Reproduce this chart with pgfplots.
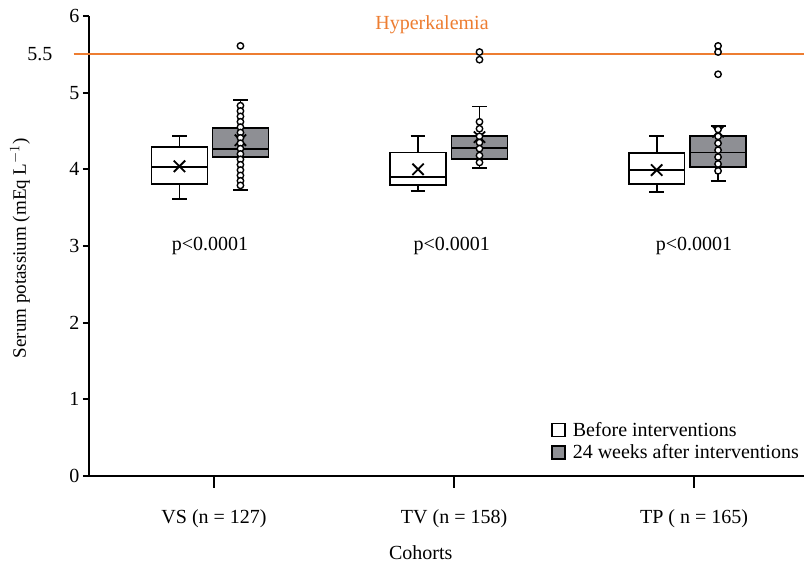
\documentclass[border=0pt]{standalone}
\usepackage{fontspec}
\setmainfont{Liberation Serif}
\usepackage{pgfplots}
\pgfplotsset{compat=1.18}
\definecolor{hk}{RGB}{237,125,49}
\definecolor{boxgray}{RGB}{142,143,148}
\newcommand{\fs}{\fontsize{20}{23}\selectfont}
\pgfplotsset{
  sqlegend/.style={legend image code/.code={\draw[##1] (0pt,-6.5pt) rectangle (13pt,6.5pt); \path (18pt,0pt);}},
  whisk/.style={forget plot, black, line width=1.8pt, unbounded coords=jump, line cap=butt},
  bxw/.style={forget plot, draw=black, fill=white, line width=1.8pt, line join=miter},
  bxg/.style={forget plot, draw=black, fill=boxgray, line width=1.8pt, line join=miter},
  med/.style={forget plot, black, line width=1.8pt},
}
\begin{document}
\begin{tikzpicture}
\begin{axis}[
  width=715pt, height=460pt, scale only axis,
  xmin=-0.521, xmax=2.458, ymin=0, ymax=6,
  axis x line=bottom, axis y line=left,
  axis line style={-, line width=1.7pt},
  xtick={0,1,2},
  xticklabels={VS (n = 127), TV (n = 158), TP ( n = 165)},
  ytick={0,1,2,3,4,5,6},
  tick align=outside,
  major tick length=6pt,
  x tick style={draw=none},
  y tick style={line width=1.7pt, black},
  tick label style={font=\fs},
  /pgf/number format/assume math mode=true,
  xticklabel style={yshift=-24pt},
  xlabel={Cohorts},
  ylabel={Serum potassium (mEq L$^{-1}$)},
  every axis x label/.style={at={(rel axis cs:0.464,0)}, yshift=-77pt, anchor=center, font=\fs},
  every axis y label/.style={at={(rel axis cs:0,0.495)}, xshift=-69pt, rotate=90, anchor=center, font=\fontsize{19}{22}\selectfont},
  clip=false,
  legend style={at={(1.0,0.025)}, anchor=south east, draw=none, fill=none,
    font=\fs, row sep=3pt},
  legend cell align=left,
]
\coordinate (bl) at (rel axis cs:0,0);
\coordinate (tr) at (rel axis cs:1,1);

\addlegendimage{sqlegend, draw=black, fill=white, line width=1.4pt}
\addlegendentry{Before interventions}
\addlegendimage{sqlegend, draw=black, fill=boxgray, line width=1.4pt}
\addlegendentry{24 weeks after interventions}

% x ticks (long, outside)
\addplot[forget plot, black, line width=1.7pt] coordinates {(0,0) (0,-0.157)};
\addplot[forget plot, black, line width=1.7pt] coordinates {(1,0) (1,-0.157)};
\addplot[forget plot, black, line width=1.7pt] coordinates {(2,0) (2,-0.157)};

% hyperkalemia line
\addplot[forget plot, hk, line width=2pt] coordinates {(-0.585,5.5) (2.458,5.5)};

% ---- VS before (x=-0.144)
\addplot[whisk] coordinates {(-0.144,3.61) (-0.144,4.43) (nan,nan) (-0.175,4.43) (-0.113,4.43) (nan,nan) (-0.175,3.61) (-0.113,3.61)};
\addplot[bxw] coordinates {(-0.2605,3.81) (-0.0275,3.81) (-0.0275,4.29) (-0.2605,4.29) (-0.2605,3.81)} -- cycle;
\addplot[med] coordinates {(-0.2605,4.03) (-0.0275,4.03)};
% ---- VS after (x=0.11)
\addplot[whisk] coordinates {(0.11,3.73) (0.11,4.90) (nan,nan) (0.079,4.90) (0.141,4.90) (nan,nan) (0.079,3.73) (0.141,3.73)};
\addplot[bxg] coordinates {(-0.0065,4.16) (0.2265,4.16) (0.2265,4.54) (-0.0065,4.54) (-0.0065,4.16)} -- cycle;
\addplot[med] coordinates {(-0.0065,4.27) (0.2265,4.27)};
% ---- TV before (x=0.85)
\addplot[whisk] coordinates {(0.85,3.72) (0.85,4.43) (nan,nan) (0.819,4.43) (0.881,4.43) (nan,nan) (0.819,3.72) (0.881,3.72)};
\addplot[bxw] coordinates {(0.7335,3.80) (0.9665,3.80) (0.9665,4.22) (0.7335,4.22) (0.7335,3.80)} -- cycle;
\addplot[med] coordinates {(0.7335,3.90) (0.9665,3.90)};
% ---- TV after (x=1.106)
\addplot[whisk] coordinates {(1.106,4.02) (1.106,4.82) (nan,nan) (1.075,4.82) (1.137,4.82) (nan,nan) (1.075,4.02) (1.137,4.02)};
\addplot[bxg] coordinates {(0.9895,4.13) (1.2225,4.13) (1.2225,4.43) (0.9895,4.43) (0.9895,4.13)} -- cycle;
\addplot[med] coordinates {(0.9895,4.28) (1.2225,4.28)};
% ---- TP before (x=1.844)
\addplot[whisk] coordinates {(1.844,3.70) (1.844,4.43) (nan,nan) (1.813,4.43) (1.875,4.43) (nan,nan) (1.813,3.70) (1.875,3.70)};
\addplot[bxw] coordinates {(1.7275,3.81) (1.9605,3.81) (1.9605,4.21) (1.7275,4.21) (1.7275,3.81)} -- cycle;
\addplot[med] coordinates {(1.7275,3.99) (1.9605,3.99)};
% ---- TP after (x=2.1)
\addplot[whisk] coordinates {(2.1,3.85) (2.1,4.57) (nan,nan) (2.069,4.57) (2.131,4.57) (nan,nan) (2.069,3.85) (2.131,3.85)};
\addplot[bxg] coordinates {(1.9835,4.03) (2.2165,4.03) (2.2165,4.43) (1.9835,4.43) (1.9835,4.03)} -- cycle;
\addplot[med] coordinates {(1.9835,4.22) (2.2165,4.22)};

% means
\addplot[forget plot, only marks, mark=x, mark size=8pt, black, mark options={line width=1.8pt}] coordinates {
(-0.144,4.04) (0.11,4.38) (0.85,4.00) (1.106,4.42) (1.844,3.99) (2.1,4.49)};

% points
\addplot[forget plot, only marks, mark=*, mark size=3.2pt, mark options={fill=white, draw=black, line width=1.4pt}] coordinates {
(0.11,4.83) (0.11,4.76) (0.11,4.69) (0.11,4.62) (0.11,4.55) (0.11,4.48) (0.11,4.41) (0.11,4.34)
(0.11,4.27) (0.11,4.20) (0.11,4.13) (0.11,4.06) (0.11,3.99) (0.11,3.92) (0.11,3.85) (0.11,3.79)
(0.11,5.61)
(1.106,4.62) (1.106,4.53) (1.106,4.43) (1.106,4.35) (1.106,4.27) (1.106,4.18) (1.106,4.09)
(1.106,5.53) (1.106,5.43)
(2.1,4.52) (2.1,4.43) (2.1,4.34) (2.1,4.25) (2.1,4.16) (2.1,4.07) (2.1,3.98)
(2.1,5.61) (2.1,5.53) (2.1,5.24)
};

\node[font=\fs] at (axis cs:-0.017,3.0) {p<0.0001};
\node[font=\fs] at (axis cs:0.99,3.0) {p<0.0001};
\node[font=\fs] at (axis cs:2.0,3.0) {p<0.0001};
\node[font=\fs, text=hk] at (axis cs:0.908,5.88) {Hyperkalemia};
\node[font=\fs, xshift=-49pt] at (axis cs:-0.521,5.5) {5.5};
\end{axis}
\pgfresetboundingbox
\path[use as bounding box] ([xshift=-89pt,yshift=-89pt]bl) rectangle ([yshift=16pt]tr);
\end{tikzpicture}
\end{document}
